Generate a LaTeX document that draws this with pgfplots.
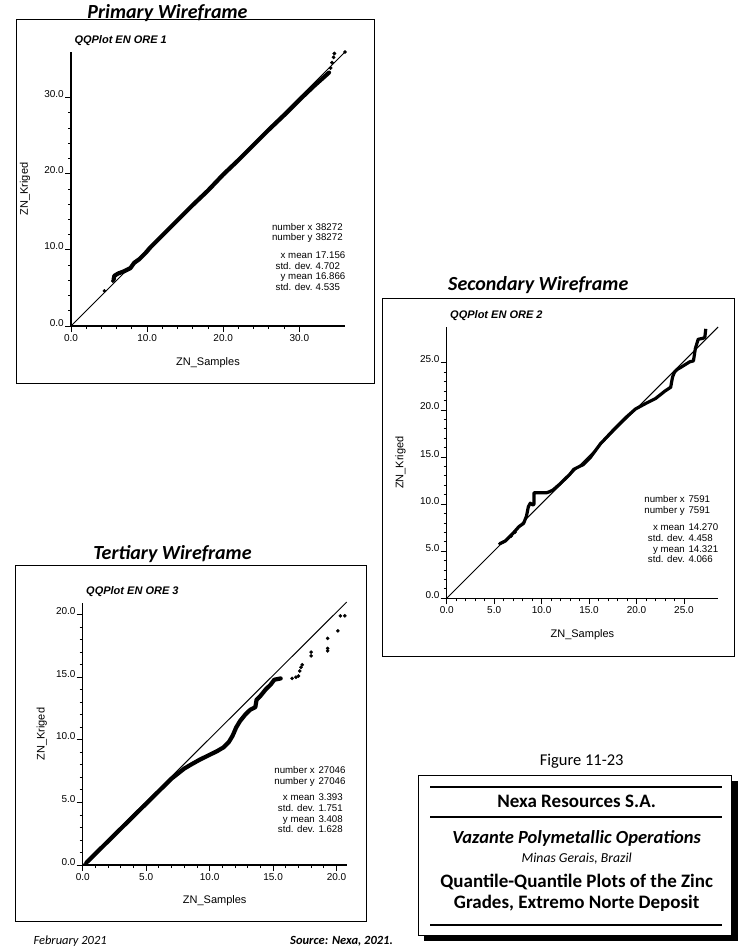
\documentclass[border=0pt]{standalone}
\usepackage{fontspec}
\setmainfont{Liberation Sans}
\newfontfamily\calfont{Carlito}
\usepackage{pgfplots}
\pgfplotsset{compat=1.18}

% common look of the three QQ plots
\pgfplotsset{qq/.style={
  scale only axis, clip=false,
  axis lines=left, axis line style={-, line width=1.3pt},
  tick align=outside, major tick length=6pt, minor tick length=3pt,
  every tick/.style={black, line width=0.8pt},
  minor tick num=4,
  tick label style={font=\fontsize{10}{12}\selectfont,
    /pgf/number format/fixed, /pgf/number format/fixed zerofill,
    /pgf/number format/precision=1, /pgf/number format/assume math mode=true},
  yticklabel style={anchor=base east, inner sep=1pt},
  xticklabel style={inner sep=2pt},
  xlabel={ZN\_Samples}, ylabel={ZN\_Kriged},
  xlabel style={font=\fontsize{11}{13}\selectfont, anchor=center},
  ylabel style={font=\fontsize{11}{13}\selectfont, anchor=center},
  title style={at={(axis description cs:0,1)}, anchor=base west, yshift=3pt,
    font=\bfseries\itshape\fontsize{11}{13}\selectfont},
}}
\newcommand{\statfont}{\fontsize{9.7}{10.7}\selectfont}

\begin{document}
\begin{tikzpicture}
\useasboundingbox (0,0) rectangle (750pt,-950pt);
\fill[white] (0,0) rectangle (750pt,-950pt);

% ---------- primary ----------
\node[anchor=base, font=\calfont\bfseries\itshape\fontsize{20}{24}\selectfont] at (167.5pt,-18.3pt) {Primary Wireframe};
\draw[line width=1pt] (16pt,-20pt) rectangle (374pt,-383pt);
\begin{axis}[qq, at={(71pt,-326pt)}, anchor=south west,
  width=274pt, height=274pt,
  xmin=0, xmax=36, ymin=0, ymax=36,
  xtick={0,10,20,30}, ytick={0,10,20,30},
  xlabel style={at={(axis description cs:0.5,-0.135)}},
  ylabel style={at={(axis description cs:-0.168,0.5)}},
  title={QQPlot EN ORE 1}]
\addplot[black, line width=1pt] coordinates {(0,0) (36,36)};
\addplot[black, line width=4.2pt, line join=round, line cap=round] coordinates {
 (5.6,6.1) (5.7,6.6) (6.2,6.9) (7.0,7.2) (7.8,7.6) (8.3,8.3) (9.0,8.8)
 (9.8,9.6) (10.4,10.3) (12,11.9) (14,13.9) (16,15.9) (18,17.8) (20,19.9)
 (22,21.8) (24,23.8) (26,25.8) (28,27.7) (30,29.7) (32,31.6) (33.9,33.3)};
\addplot[black, only marks, mark=*, mark size=1.7pt] coordinates {
 (4.4,4.6) (5.5,5.9) (34.1,33.9) (34.3,34.6) (34.5,35.3) (34.6,35.8) (36,36)};
\end{axis}
\node[anchor=north east, inner sep=0pt, font=\statfont] at (312.7pt,-222.5pt)
 {\begin{tabular}{@{}r@{}}number x\\ number y\\[7pt] x mean\\ std. dev.\\ y mean\\ std. dev.\end{tabular}};
\node[anchor=north west, inner sep=0pt, font=\statfont] at (315.5pt,-222.5pt)
 {\begin{tabular}{@{}l@{}}38272\\ 38272\\[7pt] 17.156\\ 4.702\\ 16.866\\ 4.535\end{tabular}};

% ---------- secondary ----------
\node[anchor=base, font=\calfont\bfseries\itshape\fontsize{20}{24}\selectfont] at (538.3pt,-290.7pt) {Secondary Wireframe};
\draw[line width=1pt] (382.7pt,-298.3pt) rectangle (734pt,-656.7pt);
\begin{axis}[qq, at={(446.7pt,-598.3pt)}, anchor=south west,
  width=271.4pt, height=271.3pt,
  xmin=0, xmax=28.6, ymin=0, ymax=28.8,
  xtick={0,5,10,15,20,25}, ytick={0,5,10,15,20,25},
  xlabel style={at={(axis description cs:0.5,-0.135)}},
  ylabel style={at={(axis description cs:-0.170,0.5)}},
  title={QQPlot EN ORE 2}]
\addplot[black, line width=1pt] coordinates {(0,0) (28.6,28.8)};
\addplot[black, line width=3.2pt, line join=round] coordinates {
 (5.6,5.8) (6.2,6.1) (7.0,6.9) (7.6,7.6) (8.1,7.95) (8.4,8.7) (8.6,9.7)
 (8.8,10.1) (9.1,9.9) (9.2,10.0) (9.2,11.2) (10.5,11.2) (10.8,11.3)
 (11.2,11.5) (12.0,12.2) (13.0,13.2) (13.4,13.7) (14.4,14.2) (15.1,14.9)
 (16.2,16.4) (17.6,17.9) (19.0,19.3) (19.9,20.1) (21.0,20.7) (22.0,21.2)
 (23.0,22.0) (23.6,22.4) (23.8,23.5) (24.0,24.0) (24.3,24.3) (24.8,24.6)
 (25.6,25.1) (26.0,25.2) (26.2,26.5) (26.5,27.5) (27.0,27.6) (27.2,27.7)
 (27.3,28.6)};
\addplot[black, only marks, mark=*, mark size=1.5pt] coordinates {
 (5.6,5.8) (6.0,6.0) (6.8,6.6) (7.2,7.0)};
\end{axis}
\node[anchor=north east, inner sep=0pt, font=\statfont] at (685pt,-495.1pt)
 {\begin{tabular}{@{}r@{}}number x\\ number y\\[6.5pt] x mean\\ std. dev.\\ y mean\\ std. dev.\end{tabular}};
\node[anchor=north west, inner sep=0pt, font=\statfont] at (688.3pt,-495.1pt)
 {\begin{tabular}{@{}l@{}}7591\\ 7591\\[6.5pt] 14.270\\ 4.458\\ 14.321\\ 4.066\end{tabular}};

% ---------- tertiary ----------
\node[anchor=base, font=\calfont\bfseries\itshape\fontsize{20}{24}\selectfont] at (172.5pt,-559.3pt) {Tertiary Wireframe};
\draw[line width=1pt] (15.7pt,-565pt) rectangle (366.7pt,-921pt);
\begin{axis}[qq, at={(82.7pt,-865pt)}, anchor=south west,
  width=264pt, height=261.7pt,
  xmin=0, xmax=20.8, ymin=0, ymax=20.9,
  xtick={0,5,10,15,20}, ytick={0,5,10,15,20},
  xlabel style={at={(axis description cs:0.5,-0.138)}},
  ylabel style={at={(axis description cs:-0.155,0.5)}},
  title={QQPlot EN ORE 3}]
\addplot[black, line width=1pt] coordinates {(0,0) (20.8,21.0)};
\addplot[black, line width=4.2pt, line join=round, line cap=round] coordinates {
 (0.3,0.2) (1,0.9) (2,1.9) (3,2.9) (4,3.9) (5,4.9) (6,5.9) (7,6.9) (8,7.7)
 (8.5,8.0) (9.2,8.4) (10.0,8.8) (10.6,9.1) (11.1,9.4) (11.5,9.8) (11.8,10.3)
 (12.1,11.0) (12.4,11.5) (12.8,12.0) (13.2,12.4) (13.6,12.6) (13.7,13.2)
 (14.0,13.5) (14.4,14.0) (14.8,14.4) (15.1,14.8) (15.6,14.9)};
\addplot[black, only marks, mark=*, mark size=1.6pt] coordinates {
 (16.5,14.9) (16.8,15.0) (17.0,15.1) (17.1,15.5) (17.2,15.8) (17.3,16.0)
 (18.0,17.0) (18.0,16.7) (19.3,18.1) (19.3,17.3) (19.3,17.1)
 (20.1,18.7) (20.3,19.9) (20.65,19.9)};
\end{axis}
\node[anchor=north east, inner sep=0pt, font=\statfont] at (315pt,-765.8pt)
 {\begin{tabular}{@{}r@{}}number x\\ number y\\[6pt] x mean\\ std. dev.\\ y mean\\ std. dev.\end{tabular}};
\node[anchor=north west, inner sep=0pt, font=\statfont] at (318.3pt,-765.8pt)
 {\begin{tabular}{@{}l@{}}27046\\ 27046\\[6pt] 3.393\\ 1.751\\ 3.408\\ 1.628\end{tabular}};

% ---------- footer ----------
\node[anchor=base west, font=\calfont\itshape\fontsize{12.5}{15}\selectfont] at (30pt,-944pt) {February 2021};
\node[anchor=base west, font=\calfont\bfseries\itshape\fontsize{12.5}{15}\selectfont] at (286.7pt,-944pt) {Source: Nexa, 2021.};

% ---------- title block ----------
\node[font=\calfont\fontsize{16.5}{19}\selectfont] at (581.7pt,-761.7pt) {Figure 11-23};
\fill[black] (424.3pt,-781pt) rectangle (738pt,-941pt);
\draw[fill=white, line width=0.8pt] (418.3pt,-775pt) rectangle (731.7pt,-935pt);
\draw[line width=2pt] (430pt,-786.7pt) -- (721.7pt,-786.7pt);
\draw[line width=2pt] (430pt,-816.7pt) -- (721.7pt,-816.7pt);
\draw[line width=2pt] (430pt,-925pt) -- (721.7pt,-925pt);
\node[font=\calfont\bfseries\fontsize{19}{22}\selectfont] at (576.7pt,-801.7pt) {Nexa Resources S.A.};
\node[font=\calfont\bfseries\itshape\fontsize{18.5}{22}\selectfont] at (576.7pt,-838.3pt) {Vazante Polymetallic Operations};
\node[font=\calfont\itshape\fontsize{13.7}{16}\selectfont] at (576.7pt,-858.3pt) {Minas Gerais, Brazil};
\node[font=\calfont\bfseries\fontsize{19}{22}\selectfont] at (576.7pt,-881.7pt) {Quantile-Quantile Plots of the Zinc};
\node[font=\calfont\bfseries\fontsize{19}{22}\selectfont] at (576.7pt,-903.3pt) {Grades, Extremo Norte Deposit};
\end{tikzpicture}
\end{document}
